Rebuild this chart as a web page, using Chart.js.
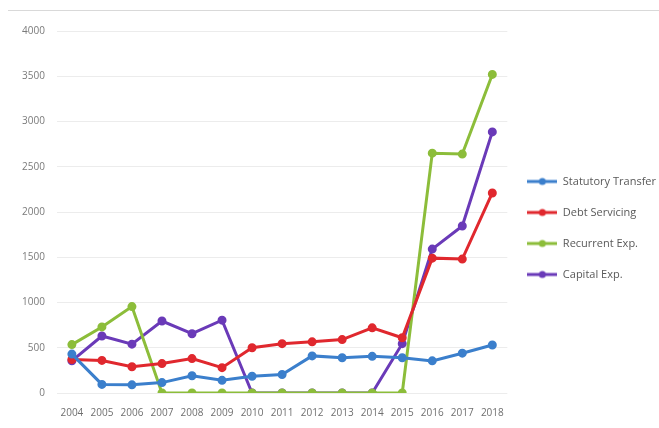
<!DOCTYPE html>
<html>
<head>
<meta charset="utf-8">
<script src="https://cdn.jsdelivr.net/npm/chart.js@4/dist/chart.umd.min.js"></script>
<style>
  html, body { margin: 0; padding: 0; background: #fff; }
  #wrap { position: relative; width: 659px; height: 428px; overflow: hidden; }
  #topline { position: absolute; left: 8px; right: 0; top: 10px; height: 0; border-top: 1px solid #d9d9d9; }
  canvas { display: block; }
</style>
</head>
<body>
<div id="wrap">
  <div id="topline"></div>
  <canvas id="myChart" width="659" height="428"></canvas>
</div>
<script>
// data
var years = ['2004', '2005', '2006', '2007', '2008', '2009', '2010', '2011', '2012', '2013', '2014', '2015', '2016', '2017', '2018'];
var statutoryTransfer = [430, 95, 90, 115, 190, 140, 185, 205, 410, 390, 405, 390, 355, 440, 530];
var debtServicing = [370, 360, 290, 325, 380, 280, 500, 545, 565, 590, 720, 610, 1490, 1480, 2210];
var recurrentExp = [535, 730, 955, 0, 0, 0, 0, 0, 0, 0, 0, 0, 2650, 2640, 3520];
var capitalExp = [355, 630, 540, 795, 655, 805, 0, 0, 0, 0, 0, 545, 1590, 1845, 2885];
var yTicks = [0, 500, 1000, 1500, 2000, 2500, 3000, 3500, 4000];

var colors = ['#3b7fcc', '#e0282e', '#8cbd3a', '#6a3ab8'];

// legend marker: short line with a dot in the middle
function legendMarker(color) {
  var c = document.createElement('canvas');
  c.width = 30; c.height = 10;
  var g = c.getContext('2d');
  g.strokeStyle = color;
  g.lineWidth = 3;
  g.beginPath(); g.moveTo(0, 5); g.lineTo(30, 5); g.stroke();
  g.fillStyle = color;
  g.beginPath(); g.arc(15, 5, 3.5, 0, Math.PI * 2); g.fill();
  return c;
}

function makeSet(label, data, color) {
  return {
    label: label,
    data: data,
    borderColor: color,
    backgroundColor: color,
    borderWidth: 3,
    pointRadius: 3,
    pointHoverRadius: 4,
    pointStyle: 'circle',
    tension: 0
  };
}

var ctx = document.getElementById('myChart').getContext('2d');

var myChart = new Chart(ctx, {
  type: 'line',
  data: {
    labels: years,
    datasets: [
      makeSet('Statutory Transfer', statutoryTransfer, colors[0]),
      makeSet('Debt Servicing', debtServicing, colors[1]),
      makeSet('Recurrent Exp.', recurrentExp, colors[2]),
      makeSet('Capital Exp.', capitalExp, colors[3])
    ]
  },
  options: {
    responsive: false,
    animation: false,
    layout: { padding: { top: 31, left: 10, right: -7, bottom: 3 } },
    plugins: {
      tooltip: { enabled: false },
      legend: {
        position: 'right',
        labels: {
          usePointStyle: true,
          pointStyleWidth: 30,
          color: '#595959',
          font: { family: 'Open Sans', size: 11 },
          padding: 20,
          generateLabels: function (chart) {
            return chart.data.datasets.map(function (ds, i) {
              return {
                text: ds.label,
                fillStyle: ds.borderColor,
                strokeStyle: ds.borderColor,
                pointStyle: legendMarker(ds.borderColor),
                fontColor: '#595959',
                datasetIndex: i,
                hidden: false
              };
            });
          }
        }
      }
    },
    scales: {
      x: {
        offset: true,
        grid: { display: false },
        border: { display: false },
        ticks: { color: '#6f6f6f', font: { family: 'Open Sans', size: 10 }, maxRotation: 0, autoSkip: false, padding: 6 }
      },
      y: {
        min: 0,
        max: 4000,
        afterBuildTicks: function (axis) {
          axis.ticks = yTicks.map(function (v) { return { value: v }; });
        },
        grid: { color: '#ececec', lineWidth: 1, drawTicks: false },
        border: { display: false },
        ticks: {
          color: '#7a7a7a',
          font: { family: 'Open Sans', size: 10 },
          padding: 12,
          callback: function (v) { return String(v); }
        }
      }
    }
  }
});
</script>
</body>
</html>
